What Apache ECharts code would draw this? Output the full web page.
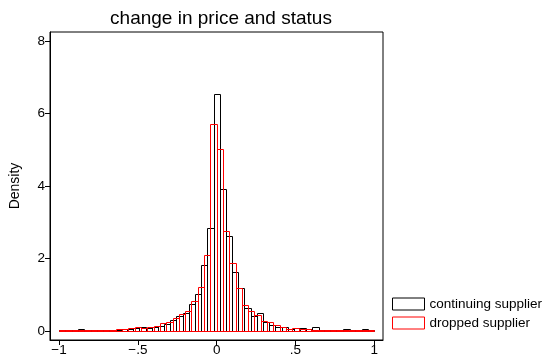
<!DOCTYPE html>
<html>
<head>
<meta charset="utf-8">
<script src="https://cdn.jsdelivr.net/npm/echarts@6/dist/echarts.min.js"></script>
<style>html,body{margin:0;padding:0;background:#fff}#c{width:546px;height:360px}</style>
</head>
<body>
<div id="c"></div>
<script>
const chartTitle = 'change in price and status';
const yAxisTitle = 'Density';
const seriesNames = ['continuing supplier', 'dropped supplier'];
const xTicks = [-1, -0.5, 0, 0.5, 1];
const xTickLabels = ['\u22121', '\u2212.5', '0', '.5', '1'];
const yTicks = [0, 2, 4, 6, 8];
const yTickLabels = ['0', '2', '4', '6', '8'];

// continuing supplier: 51 bins starting at -1, width 1/25.5
const continuingBinStart = -1;
const continuingBinWidth = 1 / 25.5;
const continuingDensity = [
  0.02, 0.02, 0.03, 0.06, 0.02, 0.03, 0.02, 0.03, 0.03, 0.04,
  0.05, 0.06, 0.09, 0.10, 0.07, 0.12, 0.14, 0.20, 0.30, 0.41,
  0.51, 0.74, 1.01, 1.83, 2.85, 6.53, 3.93, 2.63, 1.62, 1.18,
  0.63, 0.42, 0.49, 0.26, 0.17, 0.12, 0.11, 0.05, 0.09, 0.07,
  0.05, 0.10, 0.03, 0.03, 0.02, 0.03, 0.05, 0.02, 0.02, 0.05, 0.02
];

// dropped supplier: 50 bins starting at -1, width 0.04
const droppedBinStart = -1;
const droppedBinWidth = 0.04;
const droppedDensity = [
  0.03, 0.03, 0.02, 0.03, 0.02, 0.03, 0.02, 0.03, 0.03, 0.05,
  0.06, 0.08, 0.10, 0.07, 0.11, 0.13, 0.22, 0.25, 0.37, 0.46,
  0.55, 0.83, 1.22, 2.10, 5.72, 5.02, 2.77, 1.87, 1.20, 0.72,
  0.55, 0.45, 0.27, 0.26, 0.17, 0.12, 0.06, 0.08, 0.06, 0.05,
  0.04, 0.03, 0.03, 0.02, 0.03, 0.02, 0.02, 0.03, 0.02, 0.02
];

function toBins(start, width, dens) {
  return dens.map((d, i) => [start + i * width, start + (i + 1) * width, d]);
}

const FONT = 'Liberation Sans, Arial, Helvetica, sans-serif';

function histSeries(name, data, color) {
  return {
    name: name,
    type: 'custom',
    data: data,
    encode: { x: [0, 1], y: 2 },
    itemStyle: { color: color },
    renderItem: function (params, api) {
      const x0 = api.value(0), x1 = api.value(1), y = api.value(2);
      const p0 = api.coord([x0, y]);
      const p1 = api.coord([x1, 0]);
      const left = Math.round(p0[0]) + 0.5;
      const right = Math.round(p1[0]) + 0.5;
      const top = Math.round(p0[1]) + 0.5;
      const bottom = Math.round(p1[1]) + 0.5;
      return {
        type: 'rect',
        shape: { x: left, y: top, width: right - left, height: bottom - top },
        style: { fill: 'none', stroke: color, lineWidth: 1 }
      };
    }
  };
}

const chart = echarts.init(document.getElementById('c'), null, { renderer: 'canvas' });
chart.setOption({
  animation: false,
  backgroundColor: '#fff',
  title: {
    text: chartTitle,
    left: 216,
    textAlign: 'center',
    top: 4,
    textStyle: { fontFamily: FONT, fontSize: 19, fontWeight: 'normal', color: '#000' }
  },
  grid: {
    left: 50, right: 163, top: 32, bottom: 20,
    show: true, borderColor: '#000', borderWidth: 1, backgroundColor: '#fff'
  },
  legend: {
    orient: 'vertical',
    left: 392, top: 297,
    padding: 0,
    itemWidth: 32, itemHeight: 12, itemGap: 5,
    icon: 'rect',
    textStyle: { fontFamily: FONT, fontSize: 13.5, color: '#000' },
    data: [
      { name: seriesNames[0], itemStyle: { color: '#fff', borderColor: '#000', borderWidth: 1 } },
      { name: seriesNames[1], itemStyle: { color: '#fff', borderColor: '#ff0000', borderWidth: 1 } }
    ]
  },
  xAxis: {
    type: 'value',
    min: -1.057, max: 1.055,
    axisLine: { show: true, onZero: false, lineStyle: { color: '#000', width: 1 } },
    axisTick: { show: true, length: 5, customValues: xTicks, lineStyle: { color: '#000' } },
    axisLabel: {
      customValues: xTicks, margin: 3,
      fontFamily: FONT, fontSize: 13.5, color: '#000',
      formatter: v => xTickLabels[xTicks.indexOf(v)]
    },
    splitLine: { show: false }
  },
  yAxis: {
    type: 'value',
    min: -0.248, max: 8.25,
    name: yAxisTitle, nameLocation: 'middle', nameGap: 28,
    nameTextStyle: { fontFamily: FONT, fontSize: 14, color: '#000' },
    axisLine: { show: true, onZero: false, lineStyle: { color: '#000', width: 1 } },
    axisTick: { show: true, length: 5, customValues: yTicks, lineStyle: { color: '#000' } },
    axisLabel: {
      customValues: yTicks, margin: 5,
      fontFamily: FONT, fontSize: 13.5, color: '#000',
      formatter: v => yTickLabels[yTicks.indexOf(v)]
    },
    splitLine: { show: false }
  },
  series: [
    histSeries(seriesNames[0], toBins(continuingBinStart, continuingBinWidth, continuingDensity), '#000'),
    histSeries(seriesNames[1], toBins(droppedBinStart, droppedBinWidth, droppedDensity), '#ff0000')
  ]
});
</script>
</body>
</html>
